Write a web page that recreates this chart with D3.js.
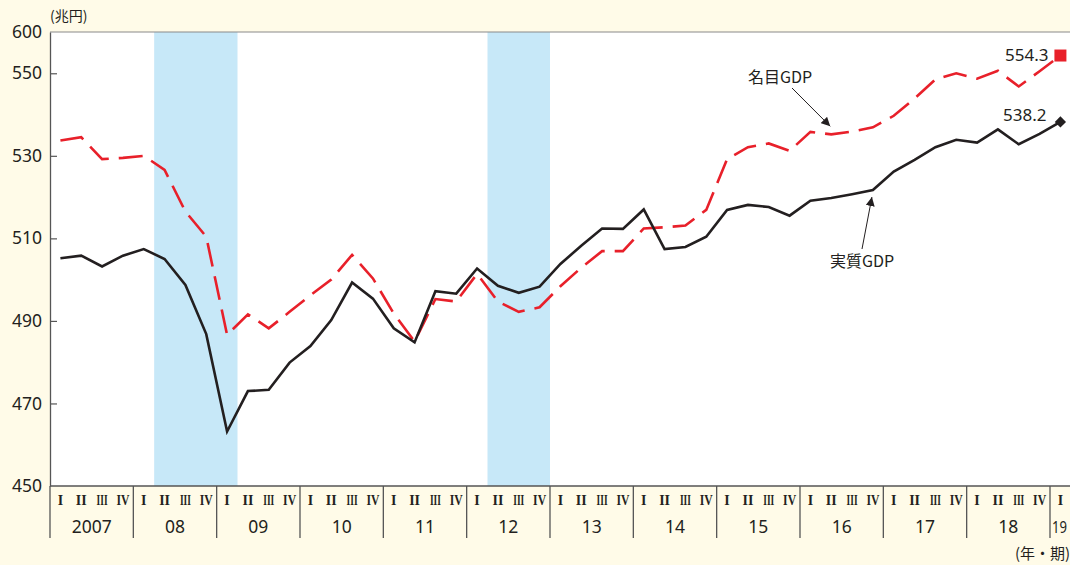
<!DOCTYPE html>
<html>
<head>
<meta charset="utf-8">
<script src="https://cdn.jsdelivr.net/npm/d3@7"></script>
<style>
  html, body { margin: 0; padding: 0; background: #fffbe8; }
  svg { display: block; }
  text { font-family: "Noto Sans", "Noto Sans CJK JP", sans-serif; fill: #231f20; }
</style>
</head>
<body>
<svg id="chart" width="1070" height="565"></svg>
<script>
// ---- data ----
const years = ["2007","08","09","10","11","12","13","14","15","16","17","18","19"];
const quarterNames = ["I","II","III","IV"];
const realGDP = [505.2, 505.8, 503.2, 505.8, 507.4, 505.0, 498.7, 486.8, 463.2, 473.0,
                 473.3, 479.9, 483.9, 490.2, 499.3, 495.4, 488.2, 484.8, 497.2, 496.6,
                 502.7, 498.5, 496.8, 498.3, 503.8, 508.2, 512.4, 512.3, 517.0, 507.4,
                 507.9, 510.4, 516.9, 518.1, 517.6, 515.5, 519.1, 519.8, 520.7, 521.7,
                 526.2, 529.0, 532.1, 533.9, 533.2, 536.4, 532.8, 535.3, 538.2];
const nominalGDP = [533.7, 534.5, 529.2, 529.5, 530.0, 526.6, 516.5, 510.4, 486.6, 491.6,
                    488.2, 492.2, 496.2, 500.0, 506.0, 500.3, 491.8, 485.0, 495.3, 494.7,
                    501.4, 494.7, 492.2, 493.3, 498.4, 502.9, 506.9, 506.9, 512.4, 512.7,
                    513.1, 516.9, 529.2, 532.1, 533.0, 531.2, 535.8, 535.2, 535.9, 536.9,
                    539.7, 543.9, 548.5, 550.0, 548.7, 550.6, 546.8, 550.5, 554.3];
// recession shading (quarter index ranges, inclusive)
const recessionStart = [5, 21];   // 2008 II, 2012 II
const recessionEnd   = [8, 23];   // 2009 I, 2012 IV
const yTickValues = [450, 470, 490, 510, 530, 550, 560];
const yTickLabels = ["450", "470", "490", "510", "530", "550", "600"]; // axis break at top
const unitLabel = "(兆円)";
const xUnitLabel = "(年・期)";
const nominalName = "名目GDP";
const realName = "実質GDP";

// ---- layout / style ----
const nQ = realGDP.length;
const plotLeft = 50, plotTop = 32, plotBottom = 486;
const qw = 1000 / 48;
const quarterLabelWidth = [null, null, 11, 13];
const svg = d3.select("#chart");

const x = d3.scaleLinear().domain([0, nQ]).range([plotLeft, plotLeft + nQ * qw]);
const y = d3.scaleLinear().domain([450, 560]).range([plotBottom, plotTop]);
const xc = i => x(i + 0.5);

svg.append("rect").attr("width", 1070).attr("height", 565).attr("fill", "#fffbe8");
svg.append("rect").attr("x", plotLeft).attr("y", plotTop)
   .attr("width", x(nQ) - plotLeft).attr("height", plotBottom - plotTop).attr("fill", "#ffffff");

// shading
svg.append("g").selectAll("rect").data(recessionStart).join("rect")
  .attr("x", (d) => x(d))
  .attr("width", (d, i) => x(recessionEnd[i] + 1) - x(d))
  .attr("y", plotTop).attr("height", plotBottom - plotTop)
  .attr("fill", "#c7e8f8");

// top border
svg.append("line").attr("x1", plotLeft).attr("x2", x(nQ)).attr("y1", plotTop).attr("y2", plotTop)
   .attr("stroke", "#8a8a8a").attr("stroke-width", 1.2);

// y axis
const yAxis = d3.axisLeft(y).tickValues(yTickValues)
  .tickFormat((d, i) => yTickLabels[i]).tickSizeInner(-7).tickSizeOuter(0).tickPadding(8);
const gy = svg.append("g").attr("transform", `translate(${plotLeft},0)`).call(yAxis);
gy.select(".domain").attr("stroke", "#555").attr("stroke-width", 1.3);
gy.selectAll(".tick line").attr("stroke", "#555").attr("stroke-width", 1.2)
  .filter(d => d === 450 || d === 560).remove();
gy.selectAll(".tick text").style("font-family", '"Noto Sans", sans-serif')
  .style("font-size", "17.5px").attr("fill", "#231f20");

// x baseline
svg.append("line").attr("x1", plotLeft).attr("x2", x(nQ)).attr("y1", plotBottom).attr("y2", plotBottom)
   .attr("stroke", "#555").attr("stroke-width", 1.3);

// year separators
svg.append("g").selectAll("line").data(years).join("line")
  .attr("x1", (d, i) => x(i * 4)).attr("x2", (d, i) => x(i * 4))
  .attr("y1", plotBottom).attr("y2", 538)
  .attr("stroke", "#555").attr("stroke-width", 1.3);

// quarter labels (serif roman numerals)
svg.append("g").selectAll("text").data(d3.range(nQ)).join("text")
  .attr("x", i => xc(i) - (quarterLabelWidth[i % 4] ? quarterLabelWidth[i % 4] / 2 : 0))
  .attr("y", 505)
  .attr("text-anchor", i => quarterLabelWidth[i % 4] ? "start" : "middle")
  .style("font-family", '"Liberation Serif", "DejaVu Serif", serif')
  .style("font-weight", "bold")
  .style("font-size", "14px")
  .attr("fill", "#231f20")
  .each(function(i) {
    const w = quarterLabelWidth[i % 4];
    if (w) d3.select(this).attr("textLength", w).attr("lengthAdjust", "spacingAndGlyphs");
  })
  .text(i => quarterNames[i % 4]);

// year labels
svg.append("g").selectAll("text").data(years).join("text")
  .attr("x", (d, i) => i === years.length - 1 ? x(i * 4) + 2 : x(i * 4 + 2))
  .attr("y", 533)
  .attr("text-anchor", (d, i) => i === years.length - 1 ? "start" : "middle")
  .style("font-size", (d, i) => i === years.length - 1 ? "16px" : "17.5px")
  .each(function(d, i) {
    if (i === years.length - 1) {
      d3.select(this).attr("textLength", 15).attr("lengthAdjust", "spacingAndGlyphs");
    }
  })
  .text(d => d);

// lines
const line = d3.line().x((d, i) => xc(i)).y(d => y(d));
svg.append("path").datum(nominalGDP).attr("d", line)
  .attr("fill", "none").attr("stroke", "#e8202a").attr("stroke-width", 2.6)
  .attr("stroke-dasharray", "24 10");
svg.append("path").datum(realGDP).attr("d", line)
  .attr("fill", "none").attr("stroke", "#231f20").attr("stroke-width", 2.6)
  .attr("stroke-linejoin", "miter");

// end markers
const last = nQ - 1;
svg.append("path")
  .attr("d", d3.symbol(d3.symbolSquare, 144)())
  .attr("transform", `translate(${xc(last)},${y(nominalGDP[last])})`)
  .attr("fill", "#e8202a");
svg.append("path")
  .attr("d", d3.symbol(d3.symbolDiamond2 || d3.symbolDiamond, 80)())
  .attr("transform", `translate(${xc(last)},${y(realGDP[last])})`)
  .attr("fill", "#231f20");
svg.append("text").attr("x", xc(last) - 12).attr("y", y(nominalGDP[last]) + 5)
  .attr("text-anchor", "end").style("font-size", "17px").text(nominalGDP[last].toFixed(1));
svg.append("text").attr("x", xc(last) - 14).attr("y", y(realGDP[last]) - 1)
  .attr("text-anchor", "end").style("font-size", "17px").text(realGDP[last].toFixed(1));

// unit labels
svg.append("text").attr("x", plotLeft).attr("y", 21)
  .style("font-family", '"Noto Sans CJK JP", sans-serif').style("font-size", "14px").text(unitLabel);
svg.append("text").attr("x", 1015).attr("y", 559)
  .style("font-family", '"Noto Sans CJK JP", sans-serif').style("font-size", "15px").text(xUnitLabel);

// annotations
const defs = svg.append("defs");
defs.append("marker").attr("id", "arr").attr("viewBox", "0 0 10 10")
  .attr("refX", 10).attr("refY", 5).attr("markerWidth", 9).attr("markerHeight", 9)
  .attr("markerUnits", "userSpaceOnUse").attr("orient", "auto")
  .append("path").attr("d", "M0,0 L10,5 L0,10 Z").attr("fill", "#231f20");

svg.append("text").attr("x", 748).attr("y", 83)
  .style("font-family", '"Noto Sans CJK JP", sans-serif').style("font-size", "16px").text(nominalName);
svg.append("line").attr("x1", 792).attr("y1", 88).attr("x2", xc(37) - 1).attr("y2", y(nominalGDP[37]) - 8)
  .attr("stroke", "#231f20").attr("stroke-width", 1).attr("marker-end", "url(#arr)");

svg.append("text").attr("x", 830).attr("y", 267)
  .style("font-family", '"Noto Sans CJK JP", sans-serif').style("font-size", "16px").text(realName);
svg.append("line").attr("x1", 862).attr("y1", 249).attr("x2", xc(39) - 1).attr("y2", y(realGDP[39]) + 7)
  .attr("stroke", "#231f20").attr("stroke-width", 1).attr("marker-end", "url(#arr)");
</script>
</body>
</html>
